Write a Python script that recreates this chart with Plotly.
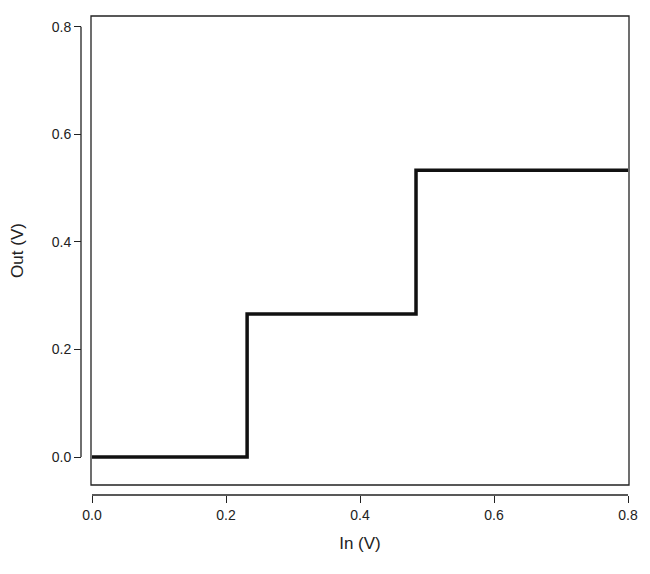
import plotly.graph_objects as go

x_in = [0.0, 0.2315, 0.4836, 0.8]
y_out = [0.0, 0.266, 0.533, 0.533]
ticks = [0.0, 0.2, 0.4, 0.6, 0.8]
tick_labels = ["0.0", "0.2", "0.4", "0.6", "0.8"]

fig = go.Figure(go.Scatter(x=x_in, y=y_out, mode="lines", line=dict(shape="hv", color="#111", width=3.5)))
yd0 = 10/479
xd0 = 10/548
font = dict(family="Liberation Sans, Arial", size=14, color="#222")
fig.update_layout(
    width=650, height=574, margin=dict(l=73, r=29, t=8, b=87, autoexpand=False),
    plot_bgcolor="white", paper_bgcolor="white", showlegend=False, font=font,
    xaxis=dict(domain=[xd0, 1], anchor="free", position=0, range=[-0.0015, 0.8015],
               tickvals=ticks, ticktext=tick_labels, ticks="outside", ticklen=7, tickcolor="#222",
               showgrid=False, zeroline=False, showline=False,
               title=dict(text="In (V)", standoff=15)),
    yaxis=dict(domain=[yd0, 1], anchor="free", position=0, range=[-0.052, 0.82],
               tickvals=ticks, ticktext=tick_labels, ticks="outside", ticklen=7, tickcolor="#222",
               showgrid=False, zeroline=False, showline=False,
               title=dict(text="Out (V)", standoff=24)),
    shapes=[
        dict(type="rect", xref="paper", yref="paper", x0=xd0, x1=1, y0=yd0, y1=1, line=dict(color="#222", width=1.3)),
        dict(type="line", xref="x", yref="paper", x0=0, x1=0.8, y0=0, y1=0, line=dict(color="#222", width=1.3)),
        dict(type="line", xref="paper", yref="y", x0=0, x1=0, y0=0, y1=0.8, line=dict(color="#222", width=1.3)),
    ],
)
fig.write_html("out.html")
